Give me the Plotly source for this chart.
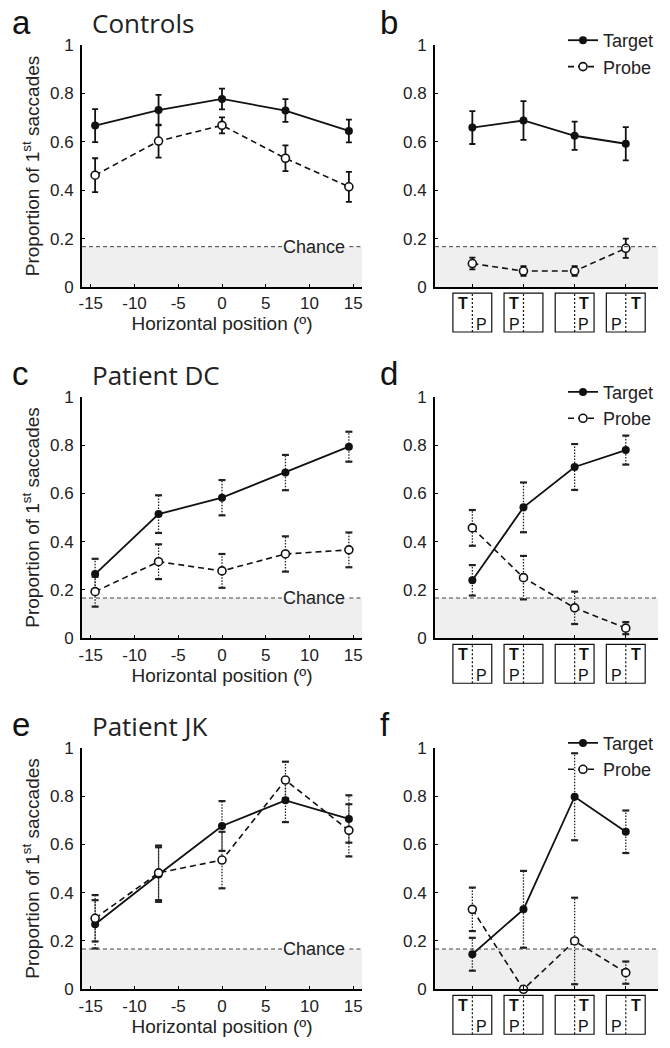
import plotly.graph_objects as go

# ---------------- data ----------------
CHANCE = 1 / 6
positions = [-14.5, -7.25, 0, 7.25, 14.5]
pos_tickvals = [-15, -10, -5, 0, 5, 10, 15]
pos_ticktext = ["-15", "-10", "-5", "0", "5", "10", "15"]
y_tickvals = [0, 0.2, 0.4, 0.6, 0.8, 1]
y_ticktext = ["0", "0.2", "0.4", "0.6", "0.8", "1"]
conditions = [1, 2, 3, 4]
# layout of the condition icons: side of the dotted midline where T / P sit
icon_T_side = ["L", "L", "R", "R"]
icon_P_side = ["R", "L", "R", "L"]

panel_letters = ["a", "b", "c", "d", "e", "f"]
group_titles = ["Controls", "Patient DC", "Patient JK"]

ctrl_pos_target = [0.667, 0.731, 0.777, 0.729, 0.645]
ctrl_pos_target_err = [0.068, 0.063, 0.043, 0.047, 0.047]
ctrl_pos_probe = [0.462, 0.603, 0.668, 0.532, 0.414]
ctrl_pos_probe_err = [0.070, 0.068, 0.033, 0.053, 0.062]
ctrl_cond_target = [0.659, 0.688, 0.625, 0.592]
ctrl_cond_target_err = [0.068, 0.080, 0.058, 0.069]
ctrl_cond_probe = [0.097, 0.066, 0.066, 0.160]
ctrl_cond_probe_err = [0.024, 0.020, 0.020, 0.040]

dc_pos_target = [0.266, 0.514, 0.582, 0.686, 0.793]
dc_pos_target_err = [0.063, 0.078, 0.073, 0.073, 0.062]
dc_pos_probe = [0.193, 0.317, 0.279, 0.349, 0.366]
dc_pos_probe_err = [0.062, 0.072, 0.070, 0.073, 0.072]
dc_cond_target = [0.240, 0.542, 0.709, 0.779]
dc_cond_target_err = [0.063, 0.103, 0.095, 0.060]
dc_cond_probe = [0.457, 0.251, 0.126, 0.042]
dc_cond_probe_err = [0.074, 0.090, 0.067, 0.025]

jk_pos_target = [0.269, 0.475, 0.676, 0.782, 0.705]
jk_pos_target_err = [0.100, 0.113, 0.103, 0.090, 0.098]
jk_pos_probe = [0.294, 0.482, 0.535, 0.866, 0.658]
jk_pos_probe_err = [0.096, 0.113, 0.117, 0.076, 0.108]
jk_cond_target = [0.145, 0.331, 0.797, 0.652]
jk_cond_target_err = [0.068, 0.159, 0.180, 0.088]
jk_cond_probe = [0.331, 0.0, 0.200, 0.069]
jk_cond_probe_err = [0.090, 0.0, 0.179, 0.046]

# ---------------- layout geometry (window pixels) ----------------
W, H = 670, 1048
OFF = 8  # page body margin: the figure starts 8 px into the window
LEFT_X = (82, 362)
RIGHT_X = (435, 658)
ROWS = [(45, 287), (396.7, 638.3), (747.7, 989.3)]

SANS = "Liberation Sans, Arial, sans-serif"
TITLE_FONT = "Open Sans, Noto Sans, sans-serif"


def fx(px):
    return (px - OFF) / W


def fy(py):
    return 1 - (py - OFF) / H


def xdom(px):
    return [fx(px[0]), fx(px[1])]


def ydom(py):
    return [fy(py[1]), fy(py[0])]


fig = go.Figure()

panels = [
    # (row, is_condition_panel, target, target_err, probe, probe_err, dotted)
    (0, False, ctrl_pos_target, ctrl_pos_target_err, ctrl_pos_probe, ctrl_pos_probe_err, False),
    (0, True, ctrl_cond_target, ctrl_cond_target_err, ctrl_cond_probe, ctrl_cond_probe_err, False),
    (1, False, dc_pos_target, dc_pos_target_err, dc_pos_probe, dc_pos_probe_err, True),
    (1, True, dc_cond_target, dc_cond_target_err, dc_cond_probe, dc_cond_probe_err, True),
    (2, False, jk_pos_target, jk_pos_target_err, jk_pos_probe, jk_pos_probe_err, True),
    (2, True, jk_cond_target, jk_cond_target_err, jk_cond_probe, jk_cond_probe_err, True),
]

legend_names = ["legend", "legend2", "legend3"]

for i, (row, is_cond, tgt, tgt_err, prb, prb_err, dotted) in enumerate(panels):
    n = i + 1
    xa = "x" if n == 1 else f"x{n}"
    ya = "y" if n == 1 else f"y{n}"
    xs = conditions if is_cond else positions
    px_x = RIGHT_X if is_cond else LEFT_X
    py = ROWS[row]

    # axes
    ax_common = dict(showline=True, linecolor="black", linewidth=1.8,
                     ticks="inside", ticklen=3, tickwidth=1.2, tickcolor="black",
                     showgrid=False, zeroline=False, fixedrange=True, automargin=False,
                     tickfont=dict(family=SANS, size=17, color="#222"))
    if is_cond:
        xaxis = dict(domain=xdom(px_x), range=[0.27, 4.63], tickvals=conditions,
                     showticklabels=False, anchor=ya, **ax_common)
    else:
        xaxis = dict(domain=xdom(px_x), range=[-16, 16], tickvals=pos_tickvals,
                     ticktext=pos_ticktext, anchor=ya, ticklabelstandoff=0,
                     title=dict(text="Horizontal position (º)", standoff=2,
                                font=dict(family=SANS, size=19, color="#222")),
                     **ax_common)
    yaxis = dict(domain=ydom(py), range=[0, 1], tickvals=y_tickvals, ticktext=y_ticktext,
                 anchor=xa, ticklabelstandoff=3, **ax_common)
    if not is_cond:
        yaxis["title"] = dict(text="Proportion of 1<sup>st</sup> saccades", standoff=5,
                              font=dict(family=SANS, size=19, color="#222"))
    fig.update_layout(**{("xaxis" if n == 1 else f"xaxis{n}"): xaxis,
                         ("yaxis" if n == 1 else f"yaxis{n}"): yaxis})

    # chance shading and line
    fig.add_shape(type="rect", xref=f"{xa} domain", yref=ya, x0=0, x1=1, y0=0, y1=CHANCE,
                  fillcolor="#efefef", line=dict(width=0), layer="below")
    if is_cond:
        fig.add_shape(type="line", xref=f"{xa} domain", yref=ya, x0=0, x1=1,
                      y0=CHANCE, y1=CHANCE, line=dict(color="#444", width=1, dash="4px,3px"))
    else:
        fig.add_shape(type="line", xref=f"{xa} domain", yref=ya, x0=0, x1=0.715,
                      y0=CHANCE, y1=CHANCE, line=dict(color="#444", width=1, dash="4px,3px"))
        fig.add_shape(type="line", xref=f"{xa} domain", yref=ya, x0=0.955, x1=1,
                      y0=CHANCE, y1=CHANCE, line=dict(color="#444", width=1, dash="4px,3px"))
        fig.add_annotation(text="Chance", xref=f"{xa} domain", yref=ya, x=0.83, y=CHANCE,
                           xanchor="center", yanchor="middle", showarrow=False,
                           font=dict(family=SANS, size=18, color="#222"))

    # error bars
    if dotted:
        for vals, errs in ((tgt, tgt_err), (prb, prb_err)):
            lx, ly, cx, cy = [], [], [], []
            for xv, yv, ev in zip(xs, vals, errs):
                if ev <= 0:
                    continue
                lx += [xv, xv, None]
                ly += [yv - ev, yv + ev, None]
                cx += [xv, xv]
                cy += [yv - ev, yv + ev]
            fig.add_trace(go.Scatter(x=lx, y=ly, mode="lines", xaxis=xa, yaxis=ya,
                                     line=dict(color="#222", width=1.3, dash="1.5px,1.5px"),
                                     showlegend=False, hoverinfo="skip", cliponaxis=False))
            fig.add_trace(go.Scatter(x=cx, y=cy, mode="markers", xaxis=xa, yaxis=ya,
                                     marker=dict(symbol="line-ew", size=5,
                                                 line=dict(color="#222", width=2.2)),
                                     showlegend=False, hoverinfo="skip", cliponaxis=False))
        t_err = None
        p_err = None
    else:
        t_err = dict(type="data", array=tgt_err, visible=True, thickness=1.8, width=3, color="#111")
        p_err = dict(type="data", array=prb_err, visible=True, thickness=1.8, width=3, color="#111")

    show_leg = is_cond
    leg = legend_names[row]
    fig.add_trace(go.Scatter(x=xs, y=tgt, mode="lines+markers", name="Target",
                             xaxis=xa, yaxis=ya, error_y=t_err, cliponaxis=False,
                             line=dict(color="#111", width=1.8),
                             marker=dict(symbol="circle", size=8, color="#111"),
                             showlegend=show_leg, legend=leg))
    fig.add_trace(go.Scatter(x=xs, y=prb, mode="lines+markers", name="Probe",
                             xaxis=xa, yaxis=ya, error_y=p_err, cliponaxis=False,
                             line=dict(color="#111", width=1.6, dash="6px,4px"),
                             marker=dict(symbol="circle", size=8, color="white",
                                         line=dict(color="#111", width=1.6)),
                             showlegend=show_leg, legend=leg))

    # condition icons below the axis
    if is_cond:
        for c, ts, ps in zip(conditions, icon_T_side, icon_P_side):
            fig.add_shape(type="rect", xref=xa, yref=f"{ya} domain",
                          x0=c - 0.38, x1=c + 0.38, y0=-0.186, y1=-0.025,
                          line=dict(color="#111", width=1.2), fillcolor="white")
            fig.add_shape(type="line", xref=xa, yref=f"{ya} domain",
                          x0=c, x1=c, y0=-0.186, y1=-0.025,
                          line=dict(color="#111", width=1.2, dash="2px,2px"))
            fig.add_annotation(text="<b>T</b>", xref=xa, yref=f"{ya} domain",
                               x=c - 0.19 if ts == "L" else c + 0.19, y=-0.068,
                               showarrow=False, xanchor="center", yanchor="middle",
                               font=dict(family=SANS, size=16, color="#111"))
            fig.add_annotation(text="P", xref=xa, yref=f"{ya} domain",
                               x=c - 0.18 if ps == "L" else c + 0.18, y=-0.153,
                               showarrow=False, xanchor="center", yanchor="middle",
                               font=dict(family=SANS, size=16, color="#111"))

    # panel letter and title
    letter_x = 10 if not is_cond else 378
    base = py[0] - 12
    fig.add_annotation(text=panel_letters[i], xref="paper", yref="paper",
                       x=fx(letter_x), y=fy(base - 11), xanchor="left", yanchor="middle",
                       showarrow=False, font=dict(family=SANS, size=33, color="#111"))
    if not is_cond:
        fig.add_annotation(text=group_titles[row], xref="paper", yref="paper",
                           x=fx(90), y=fy(base - 10), xanchor="left", yanchor="middle",
                           showarrow=False, font=dict(family=TITLE_FONT, size=26, color="#222"))

# legends
for row, name in enumerate(legend_names):
    top_px = ROWS[row][0] - 23
    fig.update_layout(**{name: dict(x=fx(659), xanchor="right",
                                    y=fy(top_px), yanchor="top",
                                    bgcolor="rgba(0,0,0,0)", borderwidth=0,
                                    font=dict(family=SANS, size=18, color="#222"),
                                    itemwidth=30, tracegroupgap=0)})

fig.update_layout(width=W, height=H,
                  margin=dict(l=0, r=0, t=0, b=0, pad=0, autoexpand=False),
                  paper_bgcolor="white", plot_bgcolor="white",
                  font=dict(family=SANS, color="#222"))

fig.write_html("out.html")
